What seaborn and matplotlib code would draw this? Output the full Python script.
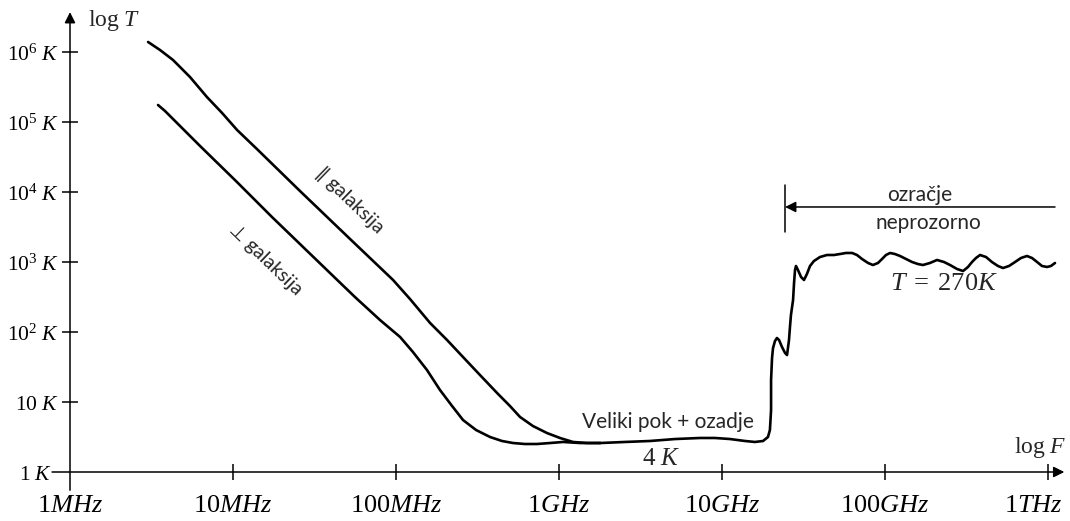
import numpy as np
import matplotlib
matplotlib.use("Agg")
import matplotlib.pyplot as plt
import matplotlib.transforms as mtransforms
import seaborn as sns

# values, as log10(f / Hz) and log10(T / K)

# parallel to galaxy plane
par_lgf = [6.479, 6.552, 6.632, 6.736, 6.840, 6.933, 7.025, 7.153, 7.411, 7.718,
           7.982, 8.086, 8.209, 8.313, 8.411, 8.515, 8.620, 8.699, 8.761, 8.840,
           8.926, 9.006, 9.086, 9.172, 9.252]
par_lgt = [6.143, 6.029, 5.886, 5.643, 5.357, 5.129, 4.886, 4.600, 4.014, 3.329,
           2.743, 2.471, 2.129, 1.886, 1.643, 1.386, 1.129, 0.943, 0.786, 0.657,
           0.557, 0.486, 0.429, 0.414, 0.414]

# perpendicular to galaxy plane
perp_lgf = [6.540, 6.583, 6.626, 6.712, 6.798, 7.018, 7.239, 7.417, 7.595, 7.748,
            7.902, 8.025, 8.104, 8.190, 8.270, 8.344, 8.411, 8.491, 8.577, 8.650,
            8.718, 8.791, 8.865, 8.945, 9.025, 9.129, 9.252]
perp_lgt = [5.243, 5.157, 5.057, 4.857, 4.657, 4.157, 3.643, 3.243, 2.843, 2.500,
            2.171, 1.929, 1.714, 1.457, 1.171, 0.943, 0.743, 0.600, 0.500, 0.443,
            0.414, 0.400, 0.400, 0.414, 0.429, 0.414, 0.414]

# big bang background + opaque atmosphere (shared tail)
tail_lgf = [9.252, 9.405, 9.558, 9.712, 9.865, 9.957, 10.049, 10.141, 10.202, 10.252,
            10.282, 10.294, 10.301, 10.301, 10.307, 10.313, 10.325, 10.337, 10.350,
            10.368, 10.387, 10.399, 10.411, 10.417, 10.423, 10.436, 10.442, 10.448,
            10.454, 10.466, 10.485, 10.503, 10.521, 10.540, 10.564, 10.601, 10.644,
            10.687, 10.724, 10.761, 10.798, 10.828, 10.859, 10.896, 10.926, 10.957,
            10.982, 11.006, 11.031, 11.061, 11.092, 11.129, 11.166, 11.202, 11.233,
            11.276, 11.319, 11.362, 11.399, 11.442, 11.479, 11.509, 11.534, 11.558,
            11.583, 11.620, 11.656, 11.693, 11.724, 11.761, 11.798, 11.834, 11.871,
            11.902, 11.933, 11.963, 11.994, 12.018, 12.043]
tail_lgt = [0.414, 0.429, 0.443, 0.471, 0.486, 0.486, 0.471, 0.443, 0.429, 0.443,
            0.500, 0.600, 0.886, 1.314, 1.629, 1.771, 1.871, 1.914, 1.886,
            1.786, 1.700, 1.671, 1.886, 2.071, 2.243, 2.457, 2.700, 2.886,
            2.943, 2.886, 2.786, 2.743, 2.829, 2.943, 3.014, 3.071, 3.100,
            3.100, 3.114, 3.129, 3.129, 3.100, 3.043, 2.986, 2.957, 2.986,
            3.043, 3.100, 3.129, 3.114, 3.086, 3.043, 3.000, 2.971, 2.957,
            2.986, 3.029, 3.000, 2.957, 2.900, 2.871, 2.929, 3.000, 3.057,
            3.100, 3.071, 3.000, 2.943, 2.914, 2.943, 3.000, 3.057, 3.086,
            3.057, 3.000, 2.943, 2.929, 2.943, 2.986]

x_ticks = [1e6, 1e7, 1e8, 1e9, 1e10, 1e11, 1e12]
x_labels = [r"$1MHz$", r"$10MHz$", r"$100MHz$", r"$1GHz$", r"$10GHz$", r"$100GHz$", r"$1THz$"]
y_ticks = [1, 10, 1e2, 1e3, 1e4, 1e5, 1e6]
y_labels = [r"$1\ K$", r"$10\ K$", r"$10^2\ K$", r"$10^3\ K$", r"$10^4\ K$", r"$10^5\ K$", r"$10^6\ K$"]

sns.set_style("ticks")
plt.rcParams["font.family"] = ["Lato", "DejaVu Sans"]
plt.rcParams["mathtext.fontset"] = "custom"
plt.rcParams["mathtext.rm"] = "Liberation Serif"
plt.rcParams["mathtext.it"] = "Liberation Serif:italic"

fig = plt.figure(figsize=(10.7, 5.21), dpi=100)
ax = fig.add_axes([0, 0, 1, 1])
ax.set_xscale("log")
ax.set_yscale("log")
ax.set_xlim(10 ** (6 - 70 / 163), 10 ** (6 + 1000 / 163))
ax.set_ylim(10 ** (-49 / 70), 10 ** (472 / 70))

black = "#000000"
lw = 1.9
for lgf, lgt in [(par_lgf, par_lgt), (perp_lgf, perp_lgt), (tail_lgf, tail_lgt)]:
    sns.lineplot(x=10 ** np.array(lgf), y=10 ** np.array(lgt), ax=ax, color=black,
                 lw=lw, sort=False, estimator=None, solid_joinstyle="round",
                 solid_capstyle="round")

# axes through 1 MHz / 1 K, drawn as arrows
for s in ax.spines.values():
    s.set_visible(False)
ax.spines["left"].set_position(("data", 1e6))
ax.spines["bottom"].set_position(("data", 1))
arrow = dict(arrowstyle="-|>", color=black, lw=1.1, mutation_scale=16, shrinkA=0, shrinkB=0)
ax.annotate("", xy=(10 ** 12.10, 1), xytext=(10 ** 5.89, 1), arrowprops=arrow)
ax.annotate("", xy=(1e6, 10 ** 6.57), xytext=(1e6, 10 ** -0.26), arrowprops=arrow)

ax.set_xticks(x_ticks)
ax.set_xticklabels(x_labels)
ax.set_yticks(y_ticks)
ax.set_yticklabels(y_labels)
ax.minorticks_off()
ax.tick_params(axis="both", direction="inout", length=11.5, width=1.1, color=black,
               labelcolor=black, bottom=True, left=True, top=False, right=False)
ax.tick_params(axis="x", pad=9, labelsize=19)
ax.tick_params(axis="y", pad=2, labelsize=15.5)
ax.xaxis.get_major_ticks()[0].tick1line.set_visible(False)
ax.yaxis.get_major_ticks()[0].tick1line.set_visible(False)

# small nudges of the end labels, as in the original
last = ax.get_xticklabels()[-1]
last.set_transform(last.get_transform() +
                   mtransforms.ScaledTranslation(-0.15, 0, fig.dpi_scale_trans))
first = ax.get_yticklabels()[0]
first.set_transform(first.get_transform() +
                    mtransforms.ScaledTranslation(-0.07, 0, fig.dpi_scale_trans))

ax.text(10 ** 6.11, 10 ** 6.457, r"$\log\,T$", fontsize=17, ha="left", va="center")
ax.text(10 ** 11.95, 10 ** 0.357, r"$\log\,F$", fontsize=17, ha="center", va="center")

ax.text(10 ** 7.718, 10 ** 3.886, "\u2225 galaksija", fontsize=14, rotation=-44,
        rotation_mode="anchor", ha="center", va="center",
        family=["Lato", "DejaVu Sans"])
ax.text(10 ** 7.200, 10 ** 3.03, "\u22a5 galaksija", fontsize=14, rotation=-44,
        rotation_mode="anchor", ha="center", va="center",
        family=["Lato", "DejaVu Sans"])

ax.text(10 ** 9.669, 10 ** 0.714, "Veliki pok + ozadje", fontsize=15, ha="center", va="center")
ax.text(10 ** 9.626, 10 ** 0.214, r"$4\ K$", fontsize=18, ha="center", va="center")

ax.text(10 ** 11.215, 10 ** 3.957, "ozračje", fontsize=15, ha="center", va="center")
ax.text(10 ** 11.264, 10 ** 3.557, "neprozorno", fontsize=15, ha="center", va="center")
ax.annotate("", xy=(10 ** 10.387, 10 ** 3.786), xytext=(10 ** 12.043, 10 ** 3.786),
            arrowprops=dict(arrowstyle="-|>", color=black, lw=1.1, mutation_scale=16,
                            shrinkA=0, shrinkB=0))
ax.plot([10 ** 10.387, 10 ** 10.387], [10 ** 3.429, 10 ** 4.1], color=black, lw=1.1)
ax.text(10 ** 11.362, 10 ** 2.714, r"$T\;=\;270K$", fontsize=19, ha="center", va="center")

fig.savefig("out.png", dpi=100)
